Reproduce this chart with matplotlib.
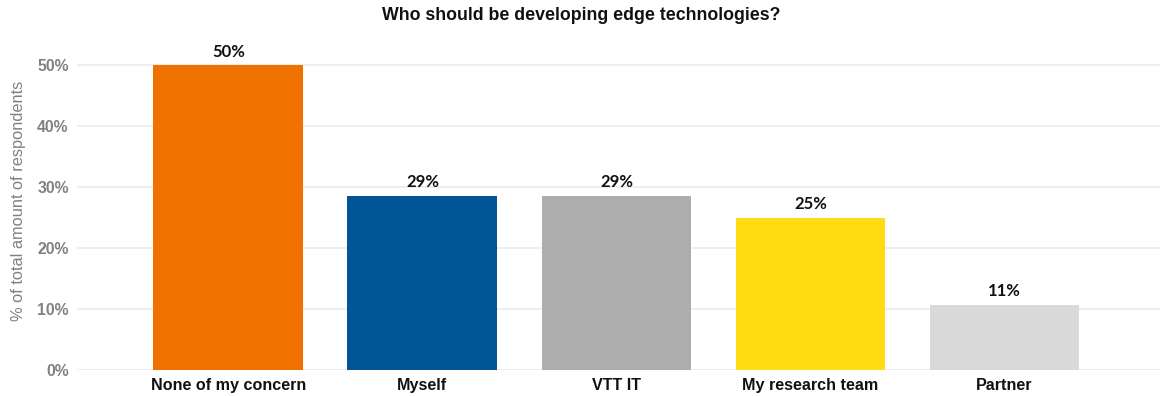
import matplotlib.pyplot as plt
from matplotlib.ticker import FuncFormatter

categories = ["None of my concern", "Myself", "VTT IT", "My research team", "Partner"]
shares = [50.0, 28.6, 28.6, 25.0, 10.7]  # % of respondents
colors = ["#F07000", "#005596", "#ADADAD", "#FFDB12", "#D9D9D9"]

plt.rcParams['font.family'] = ['Liberation Sans', 'DejaVu Sans']

fig = plt.figure(figsize=(11.63, 3.96), dpi=100)
ax = fig.add_axes([0.0662, 0.0657, 0.931, 0.808])

x = range(len(categories))
bars = ax.bar(x, shares, width=0.772, color=colors, zorder=2)

for b, v in zip(bars, shares):
    ax.text(b.get_x() + b.get_width() / 2, v + 0.9, f"{v:.0f}%",
            ha="center", va="bottom", fontsize=12, fontweight="bold",
            family=["Lato", "DejaVu Sans"], color="#111111")

ax.set_xlim(-0.78, 4.8)
ax.set_ylim(0, 52.5)
ax.set_yticks([0, 10, 20, 30, 40, 50])
ax.yaxis.set_major_formatter(FuncFormatter(lambda v, p: f"{v:.0f}%"))
ax.grid(axis="y", color="#EBEBEB", linewidth=1.2, zorder=0)
ax.set_axisbelow(True)

ax.set_xticks(list(x))
ax.set_xticklabels(categories, fontsize=11.6, fontweight="bold", color="#111111")
for lbl in ax.get_yticklabels():
    lbl.set_fontsize(11.3)
    lbl.set_fontweight("bold")
    lbl.set_color("#808080")

ax.tick_params(length=0, pad=6)
for s in ax.spines.values():
    s.set_visible(False)

ax.set_ylabel("% of total amount of respondents", fontsize=11.8, color="#808080")
ax.yaxis.set_label_coords(-0.047, 0.53)
fig.text(0.5, 0.96, "Who should be developing edge technologies?", ha="center", va="center",
         fontsize=12.8, fontweight="bold", color="#111111")

fig.savefig("out.png", dpi=100)
